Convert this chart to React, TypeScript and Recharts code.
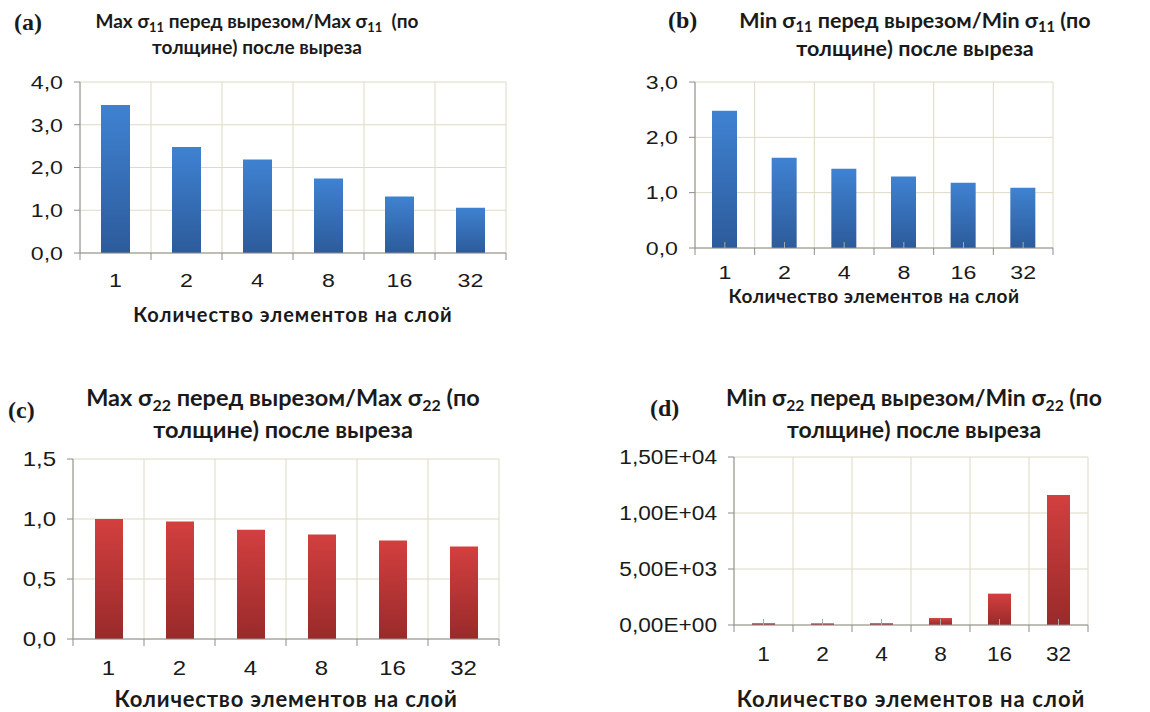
import { BarChart, Bar, XAxis, YAxis, CartesianGrid } from 'recharts'

const categories = ['1', '2', '4', '8', '16', '32']
const maxSigma11 = [3.46, 2.48, 2.19, 1.74, 1.32, 1.06]
const minSigma11 = [2.48, 1.63, 1.43, 1.29, 1.18, 1.09]
const maxSigma22 = [1.0, 0.98, 0.91, 0.87, 0.82, 0.77]
const minSigma22 = [160, 150, 160, 620, 2800, 11600]

const ticksA = [0, 1, 2, 3, 4]
const ticksB = [0, 1, 2, 3]
const ticksC = [0, 0.5, 1, 1.5]
const ticksD = [0, 5000, 10000, 15000]

const xTitle = 'Количество элементов на слой'

const decimal1 = (v: number) => v.toFixed(1).replace('.', ',')
const sci = (v: number) => {
  const [m, e] = v.toExponential(2).split('e')
  const n = Number(e)
  return `${m.replace('.', ',')}E${n < 0 ? '-' : '+'}${String(Math.abs(n)).padStart(2, '0')}`
}

const AXIS = '#8c8c8c'
const GRID = '#dedac4'
const INK = '#1a1a1a'
const TICK_FONT = '"Liberation Sans", Arial, sans-serif'
const TITLE_FONT = 'Lato, "Open Sans", sans-serif'

// category tick: label at the centre, tick marks on the band edges (Excel style)
function CatTick(props: any) {
  const { x, y, payload, index, band, gap, inner, size, sx } = props
  const axisY = y - gap
  const half = band / 2
  return (
    <g>
      <line x1={x - half} x2={x - half} y1={axisY} y2={axisY + 7} stroke={AXIS} />
      {index === categories.length - 1 && (
        <line x1={x + half} x2={x + half} y1={axisY} y2={axisY + 7} stroke={AXIS} />
      )}
      {inner && <line x1={x} x2={x} y1={axisY} y2={axisY - 6} stroke="#a8a8a8" />}
      <text
        transform={`translate(${x},${y}) scale(${sx},1)`}
        dy="0.71em"
        textAnchor="middle"
        fill={INK}
        fontSize={size}
        fontFamily={TICK_FONT}
      >
        {payload.value}
      </text>
    </g>
  )
}

function ValTick(props: any) {
  const { x, y, payload, fmt, size, sx } = props
  return (
    <text
      transform={`translate(${x},${y}) scale(${sx},1)`}
      dy="0.355em"
      textAnchor="end"
      fill={INK}
      fontSize={size}
      fontFamily={TICK_FONT}
    >
      {fmt(payload.value)}
    </text>
  )
}

interface PanelProps {
  left: number
  top: number
  width: number
  height: number
  margin: { top: number; right: number; left: number; bottom: number }
  yWidth: number
  xHeight: number
  values: number[]
  ticks: number[]
  fmt: (v: number) => string
  barSize: number
  tickGap: number
  inner: boolean
  labelOffset: number
  labelSize: number
  labelSpacing: number
  tickSize: number
  tickScale: number
  gradId: string
  top0: string
  bottom0: string
}

function Panel(p: PanelProps) {
  const data = categories.map((c, i) => ({ name: c, value: p.values[i] }))
  const plotW = p.width - p.margin.left - p.margin.right - p.yWidth
  const band = plotW / categories.length
  return (
    <div style={{ position: 'absolute', left: p.left, top: p.top }}>
      <BarChart width={p.width} height={p.height} data={data} margin={p.margin}>
        <defs>
          <linearGradient id={p.gradId} x1="0" y1="0" x2="0" y2="1">
            <stop offset="0%" stopColor={p.top0} />
            <stop offset="100%" stopColor={p.bottom0} />
          </linearGradient>
        </defs>
        <CartesianGrid
          stroke={GRID}
          verticalCoordinatesGenerator={({ offset }: any) =>
            categories.concat('').map((_, i) => (offset?.left ?? p.margin.left + p.yWidth) + i * band)
          }
        />
        <XAxis
          dataKey="name"
          height={p.xHeight}
          stroke={AXIS}
          tickLine={false}
          tickSize={0}
          tickMargin={p.tickGap}
          interval={0}
          tick={(t: any) => (
            <CatTick {...t} band={band} gap={p.tickGap} inner={p.inner} size={p.tickSize} sx={p.tickScale} />
          )}
          label={{
            value: xTitle,
            position: 'insideBottom',
            offset: p.labelOffset,
            style: {
              fontFamily: TITLE_FONT,
              fontWeight: 700,
              fontSize: p.labelSize,
              letterSpacing: p.labelSpacing,
              fill: INK,
            },
          }}
        />
        <YAxis
          width={p.yWidth}
          domain={[p.ticks[0], p.ticks[p.ticks.length - 1]]}
          ticks={p.ticks}
          interval={0}
          stroke={AXIS}
          tickSize={6}
          tickMargin={11}
          tick={(t: any) => <ValTick {...t} fmt={p.fmt} size={p.tickSize} sx={p.tickScale} />}
        />
        <Bar dataKey="value" barSize={p.barSize} fill={`url(#${p.gradId})`} isAnimationActive={false} />
      </BarChart>
    </div>
  )
}

function Title({ left, top, width, size, lh, children }: any) {
  return (
    <div
      style={{
        position: 'absolute',
        left,
        top,
        width,
        textAlign: 'center',
        fontFamily: TITLE_FONT,
        fontWeight: 700,
        fontSize: size,
        lineHeight: `${lh}px`,
        color: INK,
        whiteSpace: 'nowrap',
      }}
    >
      {children}
    </div>
  )
}

function Tag({ left, top, text }: any) {
  return (
    <div
      style={{
        position: 'absolute',
        left,
        top,
        fontFamily: '"Liberation Serif", serif',
        fontWeight: 700,
        fontSize: 24,
        lineHeight: '28px',
        color: INK,
      }}
    >
      {text}
    </div>
  )
}

const Sub = ({ t }: { t: string }) => (
  <sub style={{ fontSize: '0.68em', verticalAlign: '-0.3em', lineHeight: 0 }}>{t}</sub>
)

export default function App() {
  const blue = { gradId: 'blueGrad', top0: '#3f82d2', bottom0: '#2c5b9b' }
  const red = { gradId: 'redGrad', top0: '#d33f3f', bottom0: '#992a2a' }
  return (
    <div style={{ position: 'absolute', left: 0, top: 0, width: 1150, height: 712, background: '#fff', overflow: 'hidden' }}>
      <Tag left={14} top={8} text="(a)" />
      <Tag left={668} top={6} text="(b)" />
      <Tag left={8} top={396} text="(c)" />
      <Tag left={650} top={394} text="(d)" />

      <Title left={57} top={8} width={400} size={19} lh={26}>
        Max σ<Sub t="11" /> перед вырезом/Max σ<Sub t="11" />&nbsp; (по
        <br />
        толщине) после выреза
      </Title>
      <Title left={715} top={6} width={400} size={21.5} lh={28}>
        Min σ<Sub t="11" /> перед вырезом/Min σ<Sub t="11" /> (по
        <br />
        толщине) после выреза
      </Title>
      <Title left={63} top={381} width={440} size={23.5} lh={32}>
        Max σ<Sub t="22" /> перед вырезом/Max σ<Sub t="22" /> (по
        <br />
        толщине) после выреза
      </Title>
      <Title left={694} top={381} width={440} size={23} lh={32}>
        Min σ<Sub t="22" /> перед вырезом/Min σ<Sub t="22" /> (по
        <br />
        толщине) после выреза
      </Title>

      <Panel
        left={0}
        top={60}
        width={520}
        height={270}
        margin={{ top: 22, right: 14, left: 0, bottom: 0 }}
        yWidth={80}
        xHeight={77}
        values={maxSigma11}
        ticks={ticksA}
        fmt={decimal1}
        barSize={29}
        tickGap={20}
        inner={false}
        labelOffset={8}
        labelSize={20}
        labelSpacing={1}
        tickSize={19}
        tickScale={1.22}
        {...blue}
      />
      <Panel
        left={580}
        top={60}
        width={570}
        height={250}
        margin={{ top: 22, right: 97, left: 0, bottom: 0 }}
        yWidth={115}
        xHeight={62}
        values={minSigma11}
        ticks={ticksB}
        fmt={decimal1}
        barSize={25}
        tickGap={17}
        inner={true}
        labelOffset={7}
        labelSize={19}
        labelSpacing={0.5}
        tickSize={19}
        tickScale={1.22}
        {...blue}
      />
      <Panel
        left={0}
        top={440}
        width={520}
        height={272}
        margin={{ top: 19, right: 21, left: 0, bottom: 0 }}
        yWidth={73}
        xHeight={73}
        values={maxSigma22}
        ticks={ticksC}
        fmt={decimal1}
        barSize={28}
        tickGap={22}
        inner={false}
        labelOffset={5}
        labelSize={22}
        labelSpacing={0.8}
        tickSize={20}
        tickScale={1.2}
        {...red}
      />
      <Panel
        left={580}
        top={440}
        width={570}
        height={272}
        margin={{ top: 17, right: 62, left: 0, bottom: 0 }}
        yWidth={154}
        xHeight={87}
        values={minSigma22}
        ticks={ticksD}
        fmt={sci}
        barSize={23}
        tickGap={21}
        inner={true}
        labelOffset={5}
        labelSize={22}
        labelSpacing={1}
        tickSize={21}
        tickScale={1.08}
        {...red}
      />
    </div>
  )
}
